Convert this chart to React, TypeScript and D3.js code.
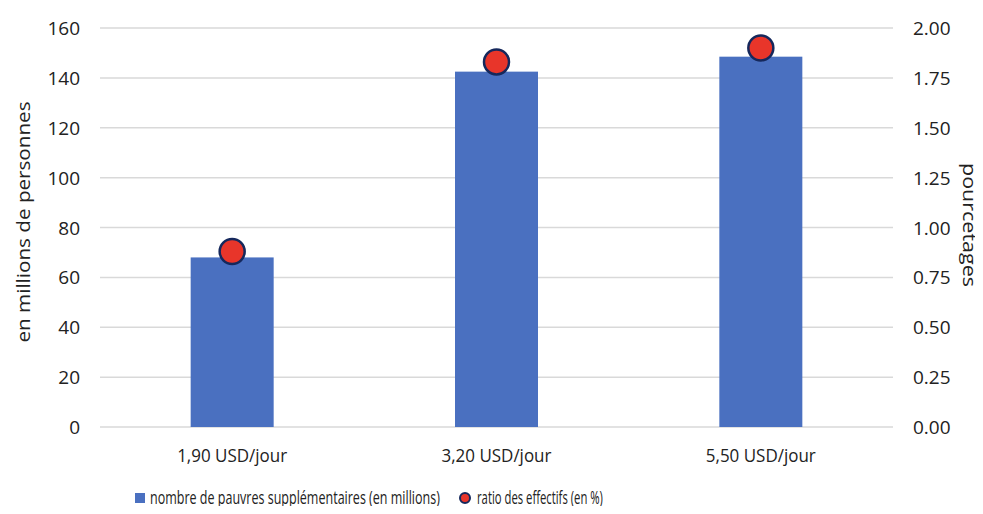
import React, { useRef, useEffect } from 'react';
import * as d3 from 'd3';

const categories = ['1,90 USD/jour', '3,20 USD/jour', '5,50 USD/jour'];
const pauvres = [68, 142.5, 148.5];
const ratio = [0.88, 1.83, 1.9];
const leftTicks = [0, 20, 40, 60, 80, 100, 120, 140, 160];
const rightTicks = [0, 0.25, 0.5, 0.75, 1, 1.25, 1.5, 1.75, 2];
const legendLabels = ['nombre de pauvres supplémentaires (en millions)', 'ratio des effectifs (en %)'];

const FONT = '"Open Sans", sans-serif';

// squeeze a left-anchored text horizontally so it spans `w` px (the source font is condensed)
const squeeze = (g, label, w, size) => {
  const t = g.append('text')
    .attr('font-size', size)
    .attr('fill', '#222')
    .text(label);
  const natural = t.node().getComputedTextLength();
  t.attr('transform', `scale(${w / natural},1)`);
  return t;
};

const App = () => {
  const ref = useRef(null);

  useEffect(() => {
    const width = 983;
    const height = 514;
    const plot = { left: 100, right: 893, top: 28, bottom: 427 };

    d3.select(ref.current).select('svg').remove();

    const svg = d3.select(ref.current)
      .append('svg')
      .attr('width', width)
      .attr('height', height)
      .style('display', 'block')
      .style('font-family', FONT);

    const x = d3.scaleBand()
      .domain(categories)
      .range([plot.left, plot.right])
      .paddingInner(0.686)
      .paddingOuter(0.343);

    const y = d3.scaleLinear().domain([0, 160]).range([plot.bottom, plot.top]);
    const y2 = d3.scaleLinear().domain([0, 2]).range([plot.bottom, plot.top]);

    // grid lines
    svg.append('g')
      .selectAll('line')
      .data(leftTicks)
      .enter()
      .append('line')
      .attr('x1', plot.left)
      .attr('x2', plot.right)
      .attr('y1', d => y(d))
      .attr('y2', d => y(d))
      .attr('stroke', '#d9d9d9')
      .attr('stroke-width', 1.5);

    // left ticks
    svg.append('g')
      .selectAll('text')
      .data(leftTicks)
      .enter()
      .append('text')
      .attr('x', 80)
      .attr('y', d => y(d) + 7)
      .attr('text-anchor', 'end')
      .attr('font-size', 19)
      .attr('fill', '#222')
      .text(d => d);

    // right ticks
    svg.append('g')
      .selectAll('text')
      .data(rightTicks)
      .enter()
      .append('text')
      .attr('x', 913)
      .attr('y', d => y2(d) + 7)
      .attr('font-size', 19)
      .attr('fill', '#222')
      .text(d => d3.format('.2f')(d));

    // bars
    svg.append('g')
      .selectAll('rect')
      .data(pauvres)
      .enter()
      .append('rect')
      .attr('x', (d, i) => x(categories[i]))
      .attr('y', d => y(d))
      .attr('width', x.bandwidth())
      .attr('height', d => y(0) - y(d))
      .attr('fill', '#4a70c0');

    // points
    svg.append('g')
      .selectAll('circle')
      .data(ratio)
      .enter()
      .append('circle')
      .attr('cx', (d, i) => x(categories[i]) + x.bandwidth() / 2)
      .attr('cy', d => y2(d))
      .attr('r', 12.5)
      .attr('fill', '#e8352a')
      .attr('stroke', '#15285c')
      .attr('stroke-width', 2.5);

    // category labels
    categories.forEach(c => {
      const g = svg.append('g')
        .attr('transform', `translate(${x(c) + x.bandwidth() / 2 - 55},462)`);
      squeeze(g, c, 110, 18);
    });

    // axis titles
    svg.append('text')
      .attr('transform', 'translate(30,222) rotate(-90)')
      .attr('text-anchor', 'middle')
      .attr('font-size', 19)
      .attr('textLength', 241)
      .attr('lengthAdjust', 'spacingAndGlyphs')
      .attr('fill', '#222')
      .text('en millions de personnes');

    svg.append('text')
      .attr('transform', 'translate(963,225) rotate(90)')
      .attr('text-anchor', 'middle')
      .attr('font-size', 18)
      .attr('textLength', 124)
      .attr('lengthAdjust', 'spacingAndGlyphs')
      .attr('fill', '#222')
      .text('pourcetages');

    // legend
    const legend = svg.append('g');
    legend.append('rect')
      .attr('x', 135)
      .attr('y', 493)
      .attr('width', 10)
      .attr('height', 10)
      .attr('fill', '#4a70c0');
    squeeze(legend.append('g').attr('transform', 'translate(150,504)'), legendLabels[0], 290, 18);
    legend.append('circle')
      .attr('cx', 465)
      .attr('cy', 498)
      .attr('r', 5)
      .attr('fill', '#e8352a')
      .attr('stroke', '#15285c')
      .attr('stroke-width', 2);
    squeeze(legend.append('g').attr('transform', 'translate(477,504)'), legendLabels[1], 126, 18);
  }, []);

  return <div ref={ref} style={{ margin: -8 }} />;
};

export default App;
